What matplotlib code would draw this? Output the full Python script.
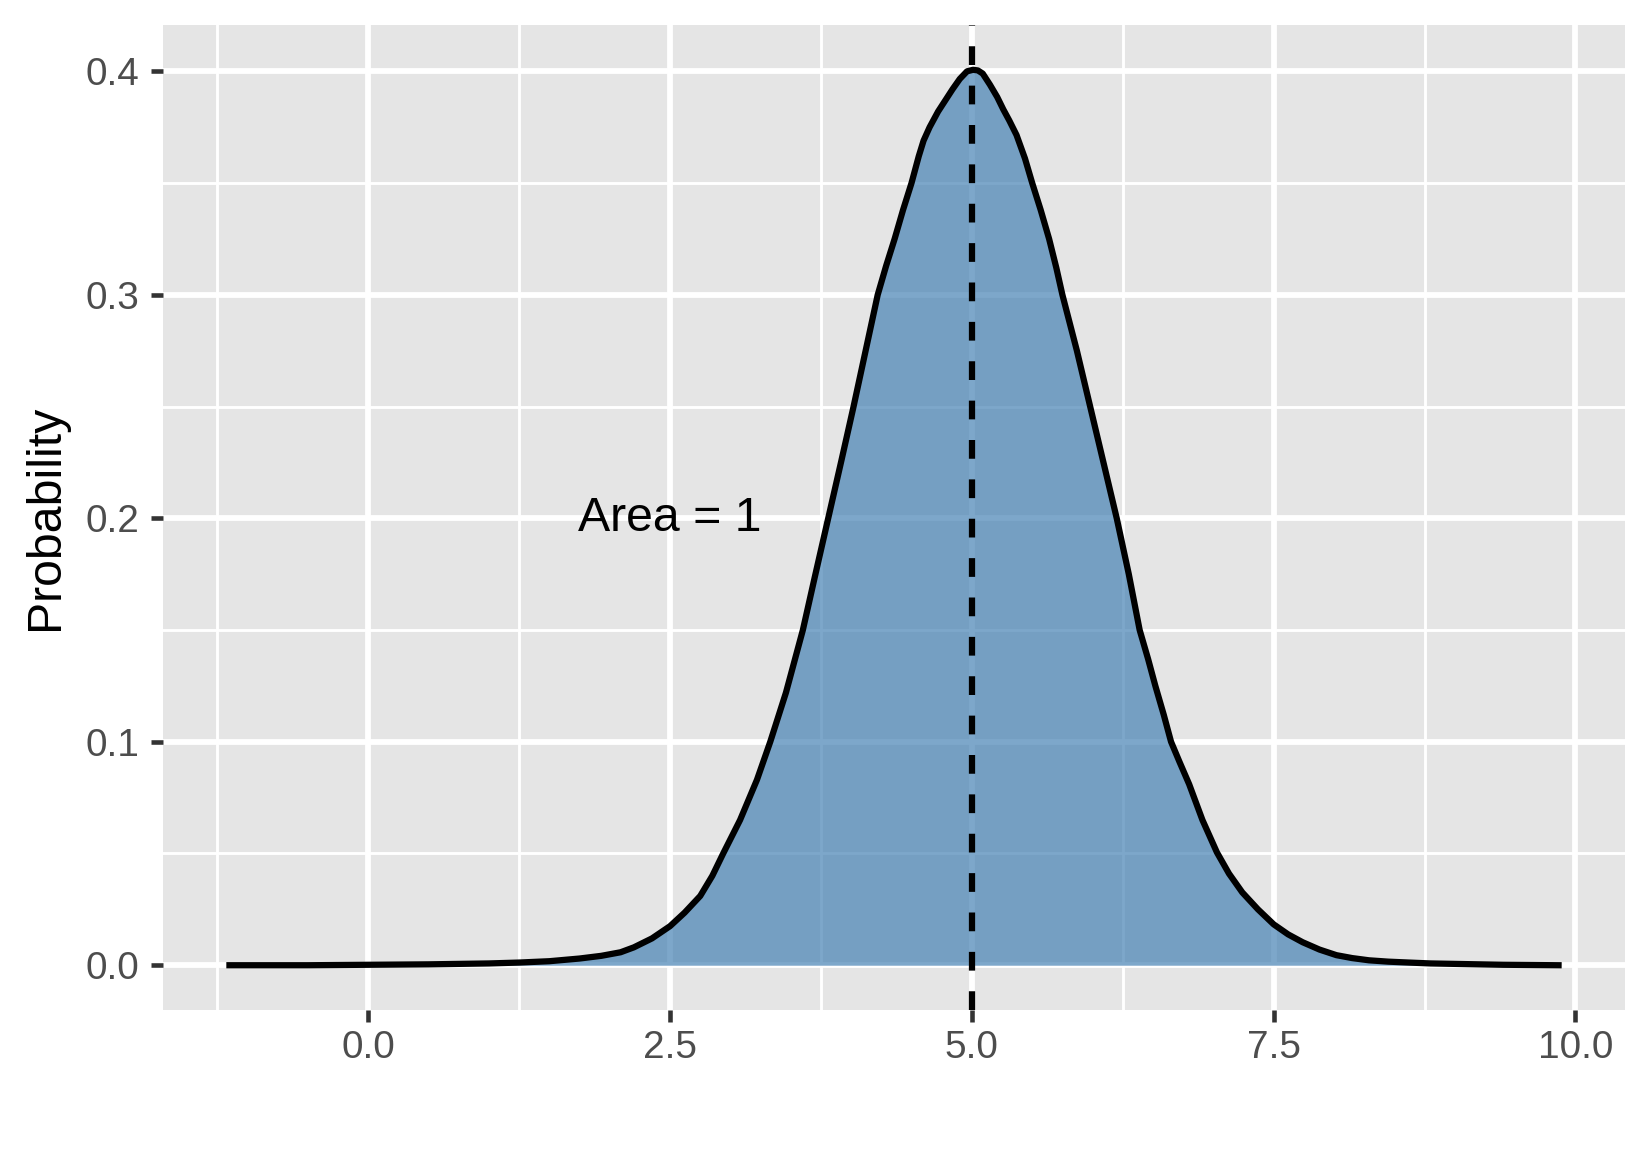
import matplotlib.pyplot as plt

plt.rcParams['font.family'] = ['Liberation Sans', 'DejaVu Sans']

# density curve (x, probability)
x_vals = [-1.15, -0.5, 0.0, 0.5, 1.0, 1.25, 1.5, 1.75, 1.93, 2.09, 2.2, 2.35,
          2.5, 2.62, 2.75, 2.85, 2.94, 3.08, 3.22, 3.33, 3.46, 3.6, 3.7, 3.81,
          3.92, 4.02, 4.12, 4.22, 4.29, 4.36, 4.43, 4.5, 4.56, 4.6, 4.65, 4.72,
          4.78, 4.84, 4.9, 4.96, 5.01, 5.05, 5.09, 5.15, 5.21, 5.26, 5.31, 5.37,
          5.44, 5.5, 5.57, 5.64, 5.7, 5.75, 5.87, 5.98, 6.09, 6.2, 6.3, 6.39,
          6.46, 6.52, 6.59, 6.65, 6.72, 6.8, 6.91, 7.03, 7.13, 7.24, 7.37, 7.5,
          7.62, 7.74, 7.88, 8.02, 8.15, 8.29, 8.45, 8.62, 8.8, 9.0, 9.4, 9.86]
y_vals = [0.0, 0.0, 0.0002, 0.0004, 0.0008, 0.0012, 0.0018, 0.003, 0.0042, 0.0058,
          0.008, 0.012, 0.0175, 0.0235, 0.031, 0.04, 0.05, 0.065, 0.083, 0.1,
          0.122, 0.15, 0.174, 0.2, 0.226, 0.25, 0.275, 0.3, 0.313, 0.325, 0.338,
          0.35, 0.362, 0.369, 0.375, 0.382, 0.387, 0.392, 0.3966, 0.4, 0.4007,
          0.4004, 0.399, 0.394, 0.3885, 0.383, 0.378, 0.3715, 0.361, 0.35, 0.338,
          0.325, 0.312, 0.3, 0.275, 0.25, 0.225, 0.2, 0.175, 0.15, 0.137, 0.125,
          0.112, 0.1, 0.091, 0.081, 0.065, 0.0505, 0.041, 0.0326, 0.025, 0.0183,
          0.0138, 0.0103, 0.007, 0.0045, 0.0032, 0.0022, 0.0016, 0.0012, 0.0008,
          0.0006, 0.0002, 0.0]
mean_x = 5.0
label_text = 'Area = 1'
label_x, label_y = 2.5, 0.2

x_ticks = [0.0, 2.5, 5.0, 7.5, 10.0]
x_minor = [-1.25, 1.25, 3.75, 6.25, 8.75]
y_ticks = [0.0, 0.1, 0.2, 0.3, 0.4]
y_minor = [0.05, 0.15, 0.25, 0.35]

fig = plt.figure(figsize=(5.5, 3.85), dpi=300)
ax = fig.add_axes([163 / 1650, 1 - 1010 / 1155, 1462 / 1650, 985 / 1155])
ax.set_facecolor('#E5E5E5')
for s in ax.spines.values():
    s.set_visible(False)

ax.fill_between(x_vals, 0, y_vals, color='#4682B4', alpha=0.7, lw=0, zorder=2)
ax.plot(x_vals, y_vals, color='black', lw=1.5, zorder=3, solid_joinstyle='round')
ax.axvline(mean_x, color='black', lw=1.5, linestyle=(0, (3.0, 3.3)), zorder=4)
ax.text(label_x, label_y, label_text, fontsize=11.6, ha='center', va='center', zorder=5)

ax.margins(x=0.05, y=0.05)

ax.set_xticks(x_ticks)
ax.set_xticklabels(['%.1f' % v for v in x_ticks])
ax.set_yticks(y_ticks)
ax.set_yticklabels(['%.1f' % v for v in y_ticks])
ax.set_xticks(x_minor, minor=True)
ax.set_yticks(y_minor, minor=True)
ax.set_axisbelow(True)
ax.grid(which='major', color='white', lw=1.4)
ax.grid(which='minor', color='white', lw=0.7)
ax.tick_params(which='major', length=2.9, width=1.1, color='#333333',
               labelsize=9.3, labelcolor='#4D4D4D')
ax.tick_params(axis='x', pad=1.8)
ax.tick_params(axis='y', pad=2.8)
ax.tick_params(which='minor', length=0)

fig.text(46 / 1650, 1 - 517.5 / 1155, 'Probability', rotation=90,
         fontsize=11.6, ha='center', va='center')

fig.savefig('out.png', dpi=300)
